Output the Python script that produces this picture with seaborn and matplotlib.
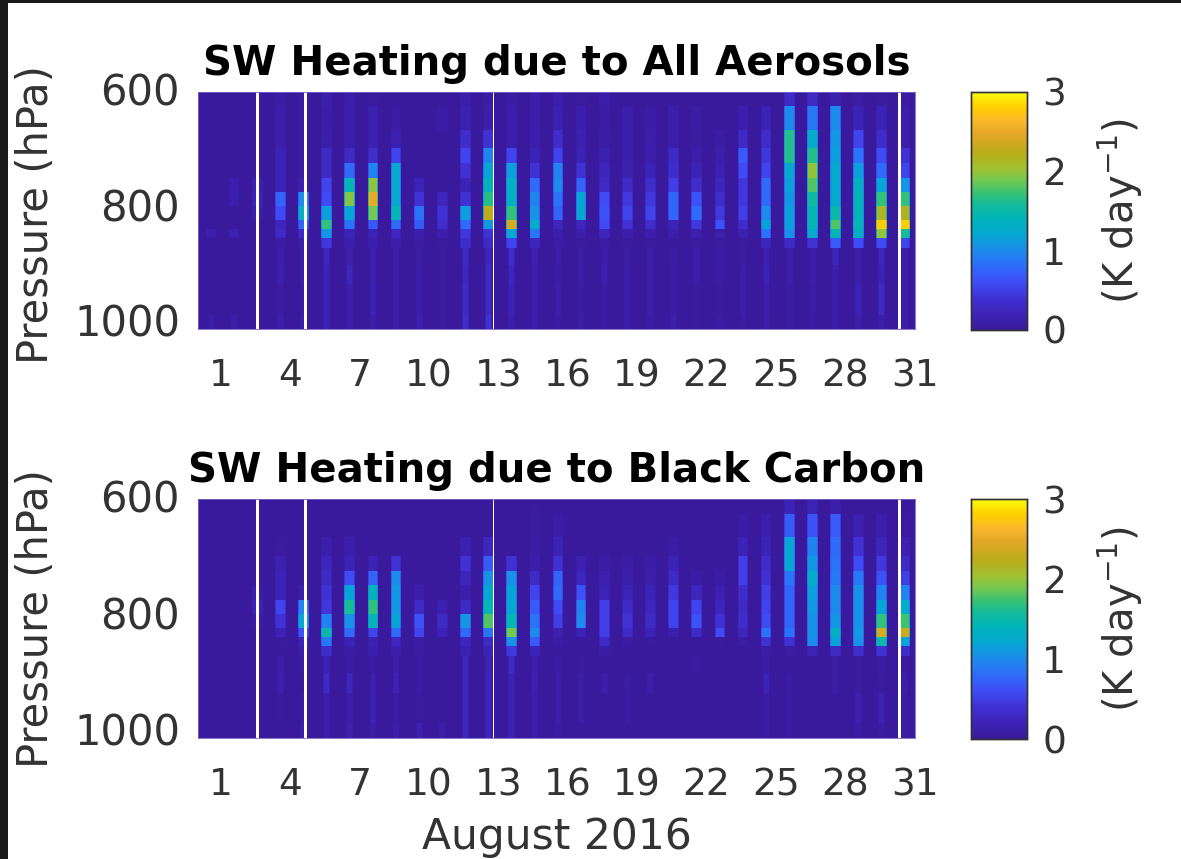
import numpy as np
import matplotlib
matplotlib.use("Agg")
import matplotlib.pyplot as plt
from matplotlib.colors import LinearSegmentedColormap
from matplotlib.patches import Rectangle
from matplotlib.transforms import ScaledTranslation
import seaborn as sns

# Layer thickness (hPa) from 600 hPa downward
layer_hpa = [25, 40, 32, 26, 25, 25, 25, 23, 16, 16, 17, 29, 34, 52, 25]

# Heating (K/day) by layer for each daily stripe: All aerosols
aero_d01 = [0, 0, 0, 0, 0, 0, 0, 0, 0, .12, 0, 0, 0, 0, .1]
aero_d02 = [0, 0, 0, 0, 0, .12, .12, 0, 0, .15, 0, 0, 0, 0, .1]
aero_d03 = [0, 0, 0, 0, 0, .15, .2, .1, 0, 0, 0, 0, 0, 0, 0]
aero_d04 = [.08, .12, .12, .2, .2, .2, .75, .6, .25, .3, .05, .12, .15, .05, .1]
aero_d05 = [.08, .05, .05, .05, .05, .15, 1.0, 1.35, .75, .3, .1, .1, .1, .05, .1]
aero_d06 = [.1, .08, .1, .3, .3, .55, .6, 1.15, 1.7, 1.1, .45, .25, .2, .2, .2]
aero_d07 = [.1, .12, .12, .3, .8, 1.45, 1.95, 1.2, .85, .2, .12, .15, .25, .12, .12]
aero_d08 = [.03, .15, .15, .35, .95, 2.0, 2.5, 1.9, .7, .2, .12, .15, .15, .2, .12]
aero_d09 = [0, .05, .15, .55, 1.25, 1.25, 1.25, 1.45, .8, .25, .1, .1, .1, .1, .1]
aero_d10 = [0, 0, 0, 0, 0, .2, .4, .85, .7, .12, .05, .08, .1, .1, .15]
aero_d11 = [0, .08, 0, 0, 0, 0, .25, .4, .35, .12, .03, .05, .05, .05, .05]
aero_d12 = [.1, .15, .35, .55, .4, .2, .4, 1.15, .8, .45, .35, .3, .25, .3, .35]
aero_d13 = [.08, .1, .4, .95, 1.2, 1.4, 1.65, 2.25, 1.1, .4, .3, .25, .3, .3, .4]
aero_d14 = [.08, .12, .12, .55, 1.15, 1.35, 1.35, 1.7, 2.4, 1.25, .55, .35, .25, .2, .12]
aero_d15 = [.1, .1, .12, .2, .4, .8, .95, 1.05, 1.3, .9, .25, .15, .12, .12, .1]
aero_d16 = [.1, .15, .35, .55, .95, 1.0, .85, .75, .25, .1, .05, .1, .08, .1, .05]
aero_d17 = [.03, .12, .15, .2, .4, .75, 1.2, 1.25, .25, .1, .03, .1, .12, .08, .1]
aero_d18 = [.1, .05, .08, .15, .25, .3, .6, .65, .6, .25, .05, .12, .15, .05, .05]
aero_d19 = [0, .1, .12, .12, .15, .3, .45, .55, .4, .12, .03, .08, .1, .1, .1]
aero_d20 = [0, .08, .1, .12, .2, .35, .45, .55, .35, .12, .03, .1, .12, .1, .08]
aero_d21 = [0, .1, .1, .3, .35, .5, .75, .75, .2, .1, 0, .08, .05, .05, .1]
aero_d22 = [0, .06, .04, .1, .2, .35, .65, .8, .45, .12, .03, .1, .12, .03, .03]
aero_d23 = [0, 0, .07, .1, .15, .25, .35, .45, .65, .1, .03, .08, .05, .03, .06]
aero_d24 = [0, .12, .3, .7, .6, .45, .45, .5, .35, .15, .03, .05, .1, .1, .05]
aero_d25 = [0, .2, .35, .45, .55, .8, .8, 1.0, 1.2, .85, .25, .15, .2, .12, .1]
aero_d26 = [.3, 1.0, 1.65, 1.65, 1.25, 1.15, 1.1, 1.15, 1.15, 1.05, .3, .12, .1, .08, .08]
aero_d27 = [.3, .9, 1.3, 1.65, 2.0, 1.8, 1.55, 1.45, 1.45, 1.25, .4, .1, .1, .08, .05]
aero_d28 = [.15, 1.0, 1.1, 1.15, 1.25, 1.25, 1.25, 1.5, 1.8, 1.45, .7, .25, .12, .1, .1]
aero_d29 = [.05, .2, .55, .85, 1.15, 1.35, 1.4, 1.4, 1.45, 1.35, .6, .12, .12, .2, .1]
aero_d30 = [.02, .2, .35, .6, .8, 1.2, 1.7, 2.15, 2.8, 2.0, .6, .25, .2, .3, .1]
aero_d31 = [.05, .1, .12, .4, .55, 1.1, 1.7, 2.2, 2.8, 1.6, .55, .12, .12, .1, .12]

# Heating (K/day) by layer for each daily stripe: Black carbon
bc_d01 = [0] * 15
bc_d02 = [0] * 15
bc_d03 = [0, 0, 0, 0, 0, .12, .2, .08, 0, 0, 0, 0, 0, 0, 0]
bc_d04 = [0, 0, .03, .15, .2, .2, .55, .4, .2, .02, 0, .1, .15, .02, 0]
bc_d05 = [0, 0, 0, 0, 0, .1, .95, 1.25, .65, .2, .1, .08, 0, .05, .1]
bc_d06 = [0, 0, .1, .25, .3, .4, .45, .95, 1.5, .9, .35, .2, .3, .12, .12]
bc_d07 = [0, 0, .12, .2, .6, 1.2, 1.6, 1.05, .8, .2, .08, .08, .25, .12, .15]
bc_d08 = [0, 0, 0, .2, .75, 1.4, 1.7, 1.45, .55, .15, .12, .05, .15, .2, .1]
bc_d09 = [0, 0, 0, .4, 1.0, 1.1, 1.1, 1.2, .8, .25, .12, .1, .2, .05, .12]
bc_d10 = [0, 0, 0, 0, 0, .1, .3, .65, .55, .05, .05, .05, .05, .03, .15]
bc_d11 = [0, 0, 0, 0, 0, 0, .15, .3, .2, 0, 0, 0, 0, 0, .12]
bc_d12 = [0, 0, .15, .4, .25, .1, .3, 1.1, .8, .25, .15, .25, .25, .25, .25]
bc_d13 = [0, 0, .25, .7, 1.05, 1.25, 1.45, 1.8, .85, .3, .2, .2, .25, .25, .25]
bc_d14 = [0, 0, 0, .4, 1.05, 1.2, 1.25, 1.45, 1.9, 1.05, .45, .3, .2, .2, .2]
bc_d15 = [.02, .04, .06, .1, .3, .55, .7, .85, 1.0, .7, .2, .12, .15, .12, .12]
bc_d16 = [0, .08, .2, .4, .75, .8, .6, .5, .15, .08, 0, .08, .1, .1, .08]
bc_d17 = [0, 0, 0, .15, .25, .65, .95, 1.0, .2, 0, 0, .03, .1, .1, 0]
bc_d18 = [0, 0, 0, .08, .15, .2, .5, .5, .5, .3, .08, 0, .1, 0, 0]
bc_d19 = [0, 0, 0, .08, .1, .2, .3, .4, .3, .05, 0, 0, .08, .05, 0]
bc_d20 = [0, 0, 0, .08, .1, .2, .25, .3, .2, .03, 0, 0, .12, 0, 0]
bc_d21 = [0, 0, .06, .2, .3, .45, .55, .55, .12, 0, 0, 0, 0, 0, 0]
bc_d22 = [0, 0, 0, 0, .08, .25, .55, .65, .3, 0, 0, .05, 0, 0, 0]
bc_d23 = [0, 0, 0, 0, .08, .15, .25, .4, .6, .03, 0, 0, 0, 0, 0]
bc_d24 = [0, .08, .2, .5, .5, .35, .3, .35, .25, .08, 0, 0, 0, 0, 0]
bc_d25 = [0, .12, .2, .35, .4, .5, .55, .6, .85, .4, .08, .08, .2, .06, .06]
bc_d26 = [.2, .7, 1.2, 1.2, .85, .75, .75, .75, .85, .4, .05, 0, .06, .06, .05]
bc_d27 = [.2, .65, .95, 1.1, 1.3, 1.15, 1.1, 1.05, 1.05, 1.0, .2, 0, 0, 0, 0]
bc_d28 = [.1, .7, .8, .85, .9, 1.0, 1.0, 1.1, 1.35, 1.2, .3, .08, .08, 0, 0]
bc_d29 = [0, .15, .4, .6, .9, 1.05, 1.05, 1.05, 1.1, 1.05, .35, .05, .05, .15, .08]
bc_d30 = [0, .12, .25, .45, .65, .95, 1.2, 1.7, 2.4, 1.5, .4, .08, .03, .18, .06]
bc_d31 = [0, .02, .15, .3, .5, .95, 1.3, 1.75, 2.35, 1.2, .35, .03, .12, .06, .06]

aero_days = [aero_d01, aero_d02, aero_d03, aero_d04, aero_d05, aero_d06, aero_d07, aero_d08,
             aero_d09, aero_d10, aero_d11, aero_d12, aero_d13, aero_d14, aero_d15, aero_d16,
             aero_d17, aero_d18, aero_d19, aero_d20, aero_d21, aero_d22, aero_d23, aero_d24,
             aero_d25, aero_d26, aero_d27, aero_d28, aero_d29, aero_d30, aero_d31]
bc_days = [bc_d01, bc_d02, bc_d03, bc_d04, bc_d05, bc_d06, bc_d07, bc_d08,
           bc_d09, bc_d10, bc_d11, bc_d12, bc_d13, bc_d14, bc_d15, bc_d16,
           bc_d17, bc_d18, bc_d19, bc_d20, bc_d21, bc_d22, bc_d23, bc_d24,
           bc_d25, bc_d26, bc_d27, bc_d28, bc_d29, bc_d30, bc_d31]

# Relative strength through the daylight hours of one stripe
daylight_weight = [.7, 1, 1, 1, 1, 1, 1, 1, 1, 1, .7]
# The same for the layers below the main plume (index 11 and down), where stripes are thinner
lowlevel_weight = [0, 0, .5, 1, 1, 1, 1, 1, .5, 0, 0]
first_lowlevel_layer = 11
first_daylight_hour = 8
# Hours with no data (white gaps)
missing_hours = [60, 61, 62, 110, 111, 112, 306, 726, 727, 728]

day_ticks = [1, 4, 7, 10, 13, 16, 19, 22, 25, 28, 31]
pressure_ticks = [600, 800, 1000]
cbar_ticks = [0, 1, 2, 3]
title_top = "SW Heating due to All Aerosols"
title_bot = "SW Heating due to Black Carbon"

colors = ["#3a1a9c", "#3c22b4", "#4030d2", "#3f4cf6", "#2a72f8", "#1a8ee8", "#06a6d4",
          "#00b4b8", "#14bc98", "#3cc270", "#74c850", "#a0c030", "#bcac18", "#e8a828",
          "#fbb82a", "#ffd000", "#f9fb0e"]
stops = [0, .06, .13, .2, .28, .34, .4, .47, .53, .58, .63, .68, .75, .83, .88, .94, 1]
parula_like = LinearSegmentedColormap.from_list("p", list(zip(stops, colors)))

W, H = 1181, 859
sns.set_theme(style="white")
plt.rcParams["font.family"] = ["DejaVu Sans"]
plt.rcParams["mathtext.default"] = "regular"
INK = "#333333"


def build(days):
    n_hours = 24 * 31
    top_rows = sum(layer_hpa[:first_lowlevel_layer])
    grid = np.zeros((sum(layer_hpa), n_hours))
    for d, prof in enumerate(days):
        col = np.repeat(np.array(prof, float), layer_hpa)
        for k, (w, w_low) in enumerate(zip(daylight_weight, lowlevel_weight)):
            j = 24 * d + first_daylight_hour + k
            grid[:top_rows, j] = col[:top_rows] * w
            grid[top_rows:, j] = col[top_rows:] * w_low
    grid[:, missing_hours] = np.nan
    return grid


def box(x0, y0, x1, y1):
    return [x0 / W, 1 - y1 / H, (x1 - x0) / W, (y1 - y0) / H]


fig = plt.figure(figsize=(W / 100, H / 100), dpi=100, facecolor="white")
panels = [(aero_days, title_top, 92, 329, .483, False), (bc_days, title_bot, 499, 738, .5, True)]
for days, title, y0, y1, ylab_y, last in panels:
    ax = fig.add_axes(box(198, y0, 915, y1))
    cax = fig.add_axes(box(971, y0, 1027, y1 + 1))
    grid = build(days)
    sns.heatmap(grid, ax=ax, cbar_ax=cax, cmap=parula_like, vmin=0, vmax=3,
                mask=np.isnan(grid), xticklabels=False, yticklabels=False,
                cbar_kws={"ticks": cbar_ticks})
    ax.set_facecolor("white")
    ax.set_xticks([23.5 + 24 * (d - 1) for d in day_ticks])
    ax.set_xticklabels(day_ticks, fontsize=27, color=INK)
    ax.set_yticks([p - 600 for p in pressure_ticks])
    ax.set_yticklabels(pressure_ticks, fontsize=30, color=INK, rotation=0)
    ax.tick_params(length=0, axis="x", pad=21)
    ax.tick_params(length=0, axis="y", pad=13)
    shift = ScaledTranslation(0, 3 / 100, fig.dpi_scale_trans)
    for lab in ax.get_yticklabels():
        lab.set_transform(lab.get_transform() + shift)
    ax.set_ylabel("Pressure (hPa)", fontsize=30, color=INK)
    ax.yaxis.set_label_coords((57 - 198) / 717, ylab_y)
    ax.set_title(title, fontsize=29, fontweight="bold", color="black", pad=12)
    for s in ax.spines.values():
        s.set_visible(True)
        s.set_linewidth(.6)
        s.set_color("#7a62c8")
    cax.tick_params(length=0, labelsize=27, labelcolor=INK, pad=11)
    cax.set_ylabel("(K day$^{-1}$)", fontsize=29, color=INK, labelpad=21)
    for s in cax.spines.values():
        s.set_visible(True)
        s.set_linewidth(1)
        s.set_color("#333333")
    if last:
        ax.set_xlabel("August 2016", fontsize=30.5, color=INK, labelpad=9)

fig.add_artist(Rectangle((0, 0), 8 / W, 1, transform=fig.transFigure, color="#1a1a1a", lw=0))
fig.add_artist(Rectangle((0, 1 - 3 / H), 1, 3 / H, transform=fig.transFigure, color="#1a1a1a", lw=0))
fig.savefig("out.png", dpi=100)
